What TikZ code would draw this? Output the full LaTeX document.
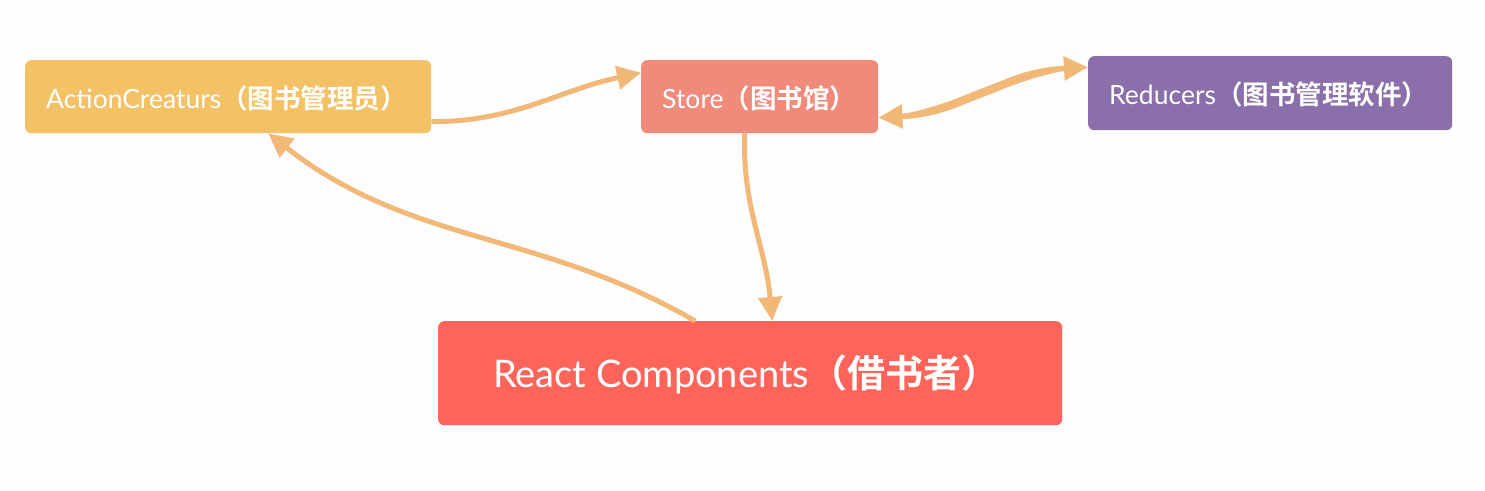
\documentclass[tikz,border=0pt]{standalone}
\usepackage{fontspec}
\setmainfont{Lato}
\newfontfamily\cjk{Noto Sans CJK SC}[BoldFont={* Bold}]
\usetikzlibrary{arrows.meta,calc}
\definecolor{bg}{HTML}{FDFDFD}
\definecolor{acc}{HTML}{F4C266}
\definecolor{stc}{HTML}{F08A7A}
\definecolor{rdc}{HTML}{8A6FAA}
\definecolor{rcc}{HTML}{FF645B}
\definecolor{arr}{HTML}{F2B878}
\newcommand{\zh}[1]{{\cjk\bfseries #1}}
\tikzset{
  box/.style={rounded corners=6pt, draw=none, text=white, inner sep=0pt, anchor=north west},
  tip/.tip={Triangle[length=24pt,width=23pt]},
  conn/.style={draw=arr, line width=5pt, -tip},
  lbl/.style={text=white, anchor=west, inner sep=0pt}
}
\begin{document}
\begin{tikzpicture}[x=1pt,y=-1pt]
\path[fill=bg] (0,0) rectangle (1485,490);
\useasboundingbox (0,0) rectangle (1485,490);
% boxes
\node[box, fill=acc, minimum width=406pt, minimum height=73pt] (ac) at (25,60) {};
\node[box, fill=stc, minimum width=237pt, minimum height=73pt] (st) at (641,60) {};
\node[box, fill=rdc, minimum width=364pt, minimum height=74pt] (rd) at (1088,56) {};
\node[box, fill=rcc, minimum width=624pt, minimum height=104pt] (rc) at (438,321) {};
% labels
\node[lbl, font=\fontsize{26.5}{30}\selectfont] (acl) at (46,98) {ActionCreaturs\zh{（图书管理员）}};
\node[lbl, font=\fontsize{26.5}{30}\selectfont] (stl) at (662,98) {Store\zh{（图书馆）}};
\node[lbl, font=\fontsize{26.5}{30}\selectfont] (rdl) at (1109,94) {Reducers\zh{（图书管理软件）}};
\node[lbl, font=\fontsize{38}{44}\selectfont] (rcl) at (493,374) {React Components\zh{（借书者）}};
% connectors
\draw[conn] ([yshift=-25pt]ac.east) to[out=0, in=192] ([yshift=24pt]st.west);
% Store <-> Reducers (tapered)
\coordinate (sA) at ([yshift=-21pt]st.east);
\coordinate (rB) at ([yshift=26pt]rd.west);
\fill[arr] (sA) .. controls ($(sA)+(95,-11)$) and ($(rB)+(-95,-1)$) .. (rB)
           -- (rB) .. controls ($(rB)+(-95,11)$) and ($(sA)+(95,1)$) .. (sA) -- cycle;
\draw[conn, tip-tip, line width=5.5pt] (sA) .. controls ($(sA)+(95,-5)$) and ($(rB)+(-95,5)$) .. (rB);
\draw[conn] ([xshift=-15pt]st.south) to[out=268, in=95] ([xshift=22pt]rc.north);
\draw[conn] ([xshift=-55pt]rc.north) to[out=150, in=-38] ([xshift=40pt]ac.south);
\end{tikzpicture}
\end{document}
